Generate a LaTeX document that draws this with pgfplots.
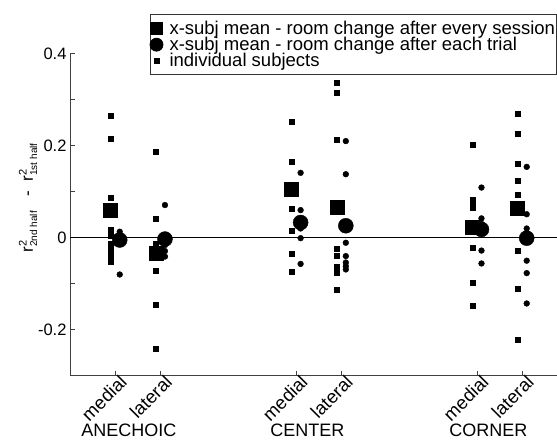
\documentclass[border=0pt]{standalone}
\usepackage{pgfplots}
\pgfplotsset{compat=1.18}
\usepackage{amsmath}
\usepackage{fontspec}
\setmainfont{Liberation Sans}

\newcommand{\tickfont}{\fontsize{16.5}{16.5}\selectfont}
\newcommand{\rotfont}{\fontsize{18.5}{18.5}\selectfont}
\newcommand{\legfont}{\fontsize{18.5}{18.5}\selectfont}
\newcommand{\grpfont}{\fontsize{18}{18}\selectfont}

% individual subjects, room change after every session (squares, left of tick)
\pgfplotstableread{
x y
0.9 0.265
0.9 0.215
0.9 0.087
0.9 0.017
0.9 0.004
0.9 -0.012
0.9 -0.027
0.9 -0.039
0.9 -0.052
1.9 0.187
1.9 0.041
1.9 -0.012
1.9 -0.020
1.9 -0.030
1.9 -0.072
1.9 -0.146
1.9 -0.242
4.9 0.252
4.9 0.166
4.9 0.062
4.9 0.015
4.9 -0.034
4.9 -0.073
5.9 0.337
5.9 0.315
5.9 0.212
5.9 -0.025
5.9 -0.040
5.9 -0.063
5.9 -0.076
5.9 -0.114
8.9 0.2015
8.9 0.082
8.9 0.075
8.9 0.066
8.9 0.020
8.9 -0.021
8.9 -0.098
8.9 -0.147
9.9 0.270
9.9 0.227
9.9 0.160
9.9 0.124
9.9 0.094
9.9 -0.029
9.9 -0.110
9.9 -0.222
}\subjsession

% individual subjects, room change after each trial (circles, right of tick)
\pgfplotstableread{
x y
1.1 0.013
1.1 0.005
1.1 0.000
1.1 -0.004
1.1 -0.008
1.1 -0.080
2.1 0.071
2.1 0.005
2.1 -0.016
2.1 -0.029
2.1 -0.041
5.1 0.141
5.1 0.060
5.1 0.040
5.1 0.020
5.1 -0.001
5.1 -0.057
6.1 0.210
6.1 0.138
6.1 0.030
6.1 -0.011
6.1 -0.040
6.1 -0.054
6.1 -0.062
6.1 -0.069
9.1 0.109
9.1 0.042
9.1 0.030
9.1 0.015
9.1 -0.028
9.1 -0.056
10.1 0.154
10.1 0.051
10.1 0.020
10.1 -0.050
10.1 -0.077
10.1 -0.143
}\subjtrial

% cross-subject means
\pgfplotstableread{
x y
0.9 0.059
1.9 -0.033
4.9 0.105
5.9 0.067
8.9 0.023
9.9 0.064
}\meansession

\pgfplotstableread{
x y
1.1 -0.005
2.1 -0.003
5.1 0.033
6.1 0.026
9.1 0.018
10.1 -0.001
}\meantrial

\begin{document}
\begin{tikzpicture}
\begin{axis}[
  scale only axis,
  width=487pt, height=322pt,
  xmin=0, xmax=10.77,
  ymin=-0.3, ymax=0.4,
  clip=false,
  axis x line*=bottom, axis y line*=left,
  axis line style={black!75, line width=0.9pt, -},
  xtick={1,2,5,6,9,10},
  xticklabels={medial,lateral,medial,lateral,medial,lateral},
  ytick={-0.2,0,0.2,0.4},
  yticklabels={-0.2,0,0.2,0.4},
  minor ytick={-0.1,0.1,0.3},
  tick align=inside,
  major tick length=5pt, minor tick length=5pt,
  tick style={black!75, line width=0.9pt},
  ticklabel style={font=\tickfont},
  xticklabel style={rotate=45, anchor=east, font=\rotfont, xshift=7pt, yshift=-8pt},
  every axis y label/.style={at={(rel axis cs:-0.0862,0.553)}, rotate=90, anchor=center},
  ylabel={r$^{\text{\fontsize{11}{11}\selectfont 2}}_{\text{\fontsize{10}{10}\selectfont 2nd half}}$ \ \ - \ r$^{\text{\fontsize{11}{11}\selectfont 2}}_{\text{\fontsize{10}{10}\selectfont 1st half}}$},
  ylabel style={font=\fontsize{17}{17}\selectfont},
  legend style={at={(rel axis cs:1,1.122)}, anchor=north east,
    draw=black!80, line width=0.8pt, font=\legfont,
    row sep=-2pt, column sep=5pt, inner xsep=0pt, inner ysep=5pt,
    nodes={inner sep=1.5pt}},
  legend cell align=left,
]
\addlegendimage{only marks, mark=square*, mark size=6pt, black}
\addlegendentry{x-subj mean - room change after every session}
\addlegendimage{only marks, mark=*, mark size=6.5pt, black}
\addlegendentry{x-subj mean - room change after each trial}
\addlegendimage{only marks, mark=square*, mark size=2.4pt, black}
\addlegendentry{individual subjects}

\addplot[black, line width=1.1pt, forget plot] coordinates {(0,0) (10.77,0)};

\addplot[only marks, mark=square*, mark size=2.5pt, black, forget plot] table {\subjsession};
\addplot[only marks, mark=*, mark size=2.9pt, black, forget plot] table {\subjtrial};
\addplot[only marks, mark=square*, mark size=7pt, black, forget plot] table {\meansession};
\addplot[only marks, mark=*, mark size=7.5pt, black, forget plot] table {\meantrial};

\node[anchor=base, font=\grpfont] at ([yshift=-61pt]axis cs:1.3,-0.3) {ANECHOIC};
\node[anchor=base, font=\grpfont] at ([yshift=-61pt]axis cs:5.25,-0.3) {CENTER};
\node[anchor=base, font=\grpfont] at ([yshift=-61pt]axis cs:9.25,-0.3) {CORNER};

\coordinate (sw) at (rel axis cs:0,0);
\coordinate (ne) at (rel axis cs:1,1);
\end{axis}
\pgfresetboundingbox
\path ([shift={(-70pt,-65pt)}]sw) rectangle ([shift={(0pt,53.7pt)}]ne);
\end{tikzpicture}
\end{document}
